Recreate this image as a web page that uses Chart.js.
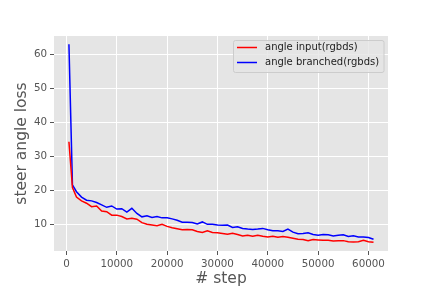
<!DOCTYPE html>
<html>
<head>
<meta charset="utf-8">
<script src="https://cdn.jsdelivr.net/npm/chart.js@4.4.0/dist/chart.umd.min.js"></script>
<style>
  html, body { margin: 0; padding: 0; background: #ffffff; }
  #wrap { width: 432px; height: 288px; }
</style>
</head>
<body>
<div id="wrap"><canvas id="lossChart" width="432" height="288"></canvas></div>
<script>
// training steps (x)
const steps = [500, 1200, 2000, 3000, 4000, 5000, 6000, 7000, 8000, 9000,
  10000, 11000, 12000, 13000, 14000, 15000, 16000, 17000, 18000, 19000,
  20000, 21000, 22000, 23000, 24000, 25000, 26000, 27000, 28000, 29000,
  30000, 31000, 32000, 33000, 34000, 35000, 36000, 37000, 38000, 39000,
  40000, 41000, 42000, 43000, 44000, 45000, 46000, 47000, 48000, 49000,
  50000, 51000, 52000, 53000, 54000, 55000, 56000, 57000, 58000, 59000,
  60000, 61000];

// angle input(rgbds)
const inputLoss = [34.3, 20.8, 18.0, 16.9, 16.2, 15.2, 15.4, 13.9, 13.7, 12.7,
  12.7, 12.3, 11.6, 11.8, 11.5, 10.5, 10.0, 9.8, 9.6, 10.0,
  9.4, 9.0, 8.7, 8.4, 8.5, 8.4, 7.9, 7.6, 8.1, 7.6,
  7.5, 7.3, 7.1, 7.4, 7.0, 6.6, 6.8, 6.5, 6.8, 6.5,
  6.3, 6.5, 6.2, 6.4, 6.2, 5.9, 5.6, 5.5, 5.2, 5.5,
  5.4, 5.3, 5.3, 5.1, 5.2, 5.2, 4.9, 4.8, 4.9, 5.3,
  4.9, 4.7];

// angle branched(rgbds)
const branchedLoss = [63.0, 21.6, 19.6, 18.0, 17.1, 16.9, 16.4, 15.7, 15.0, 15.4,
  14.5, 14.6, 13.6, 14.7, 13.2, 12.2, 12.5, 12.0, 12.3, 11.9,
  11.9, 11.6, 11.2, 10.6, 10.6, 10.5, 10.1, 10.7, 10.0, 10.0,
  9.8, 9.7, 9.8, 9.1, 9.3, 8.8, 8.6, 8.5, 8.6, 8.8,
  8.4, 8.1, 8.1, 7.9, 8.6, 7.7, 7.2, 7.3, 7.5, 7.0,
  6.8, 7.0, 6.9, 6.6, 6.8, 6.9, 6.4, 6.6, 6.3, 6.3,
  6.1, 5.6];

const seriesNames = ["angle input(rgbds)", "angle branched(rgbds)"];
const xTicks = [0, 10000, 20000, 30000, 40000, 50000, 60000];
const yTicks = [10, 20, 30, 40, 50, 60];

const FONT = "'DejaVu Sans', sans-serif";

//grey panel behind the plot
const panelBg = {
  id: "panelBg",
  beforeDraw(chart) {
    const a = chart.chartArea;
    const c = chart.ctx;
    c.save();
    c.fillStyle = "#E5E5E5";
    c.fillRect(a.left, a.top, a.right - a.left, a.bottom - a.top);
    c.restore();
  }
};

//matplotlib-like legend box in upper right
const boxLegend = {
  id: "boxLegend",
  afterDraw(chart) {
    const c = chart.ctx;
    const ds = chart.data.datasets;
    const x = 233.5, y = 40.5, w = 150.5, h = 32;
    c.save();
    c.fillStyle = "rgba(229,229,229,0.8)";
    c.strokeStyle = "#CCCCCC";
    c.lineWidth = 1;
    c.beginPath();
    c.roundRect(x, y, w, h, 2);
    c.fill();
    c.stroke();
    c.font = "10px " + FONT;
    c.textBaseline = "middle";
    ds.forEach((d, i) => {
      const ly = 47.5 + i * 15;
      c.strokeStyle = d.borderColor;
      c.lineWidth = 1.5;
      c.beginPath();
      c.moveTo(237, ly);
      c.lineTo(257, ly);
      c.stroke();
      c.fillStyle = "#222222";
      c.fillText(d.label, 265, ly);
    });
    c.restore();
  }
};

const ctx = document.getElementById("lossChart").getContext("2d");
const lossChart = new Chart(ctx, {
  type: "line",
  data: {
    datasets: [
      {
        label: seriesNames[0],
        data: steps.map((s, i) => ({ x: s, y: inputLoss[i] })),
        borderColor: "#FF0000",
        borderWidth: 1.5,
        pointRadius: 0,
        tension: 0
      },
      {
        label: seriesNames[1],
        data: steps.map((s, i) => ({ x: s, y: branchedLoss[i] })),
        borderColor: "#0000FF",
        borderWidth: 1.5,
        pointRadius: 0,
        tension: 0
      }
    ]
  },
  options: {
    responsive: false,
    animation: false,
    layout: { padding: { left: 0, top: 36, right: 44, bottom: 0 } },
    plugins: {
      legend: { display: false },
      tooltip: { enabled: false }
    },
    scales: {
      x: {
        type: "linear",
        min: -2465,
        max: 63877,
        afterBuildTicks: (scale) => { scale.ticks = xTicks.map(v => ({ value: v })); },
        afterFit: (scale) => { scale.height = 37; },
        grid: { color: "#FFFFFF", lineWidth: 1, tickColor: "#555555", tickLength: 4 },
        border: { display: false },
        ticks: {
          color: "#555555",
          font: { family: FONT, size: 10.3 },
          padding: 3,
          maxRotation: 0,
          callback: (v) => String(v)
        },
        title: {
          display: true,
          text: "# step",
          color: "#555555",
          font: { family: FONT, size: 15.5 },
          padding: { top: 0, bottom: 0 }
        }
      },
      y: {
        min: 2.15,
        max: 65.4,
        afterBuildTicks: (scale) => { scale.ticks = yTicks.map(v => ({ value: v })); },
        afterFit: (scale) => { scale.width = 54; },
        grid: { color: "#FFFFFF", lineWidth: 1, tickColor: "#555555", tickLength: 4 },
        border: { display: false },
        ticks: {
          color: "#555555",
          font: { family: FONT, size: 10.3 },
          padding: 3
        },
        title: {
          display: true,
          text: "steer angle loss",
          color: "#555555",
          font: { family: FONT, size: 15.5 },
          padding: { top: 13, bottom: 0 }
        }
      }
    }
  },
  plugins: [panelBg, boxLegend]
});
</script>
</body>
</html>
